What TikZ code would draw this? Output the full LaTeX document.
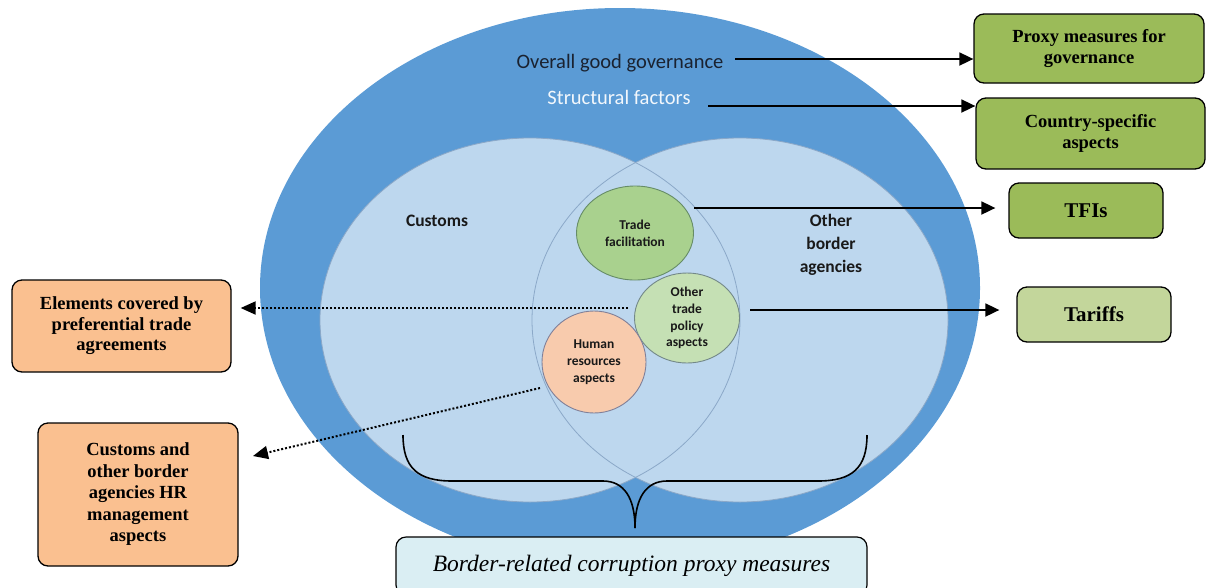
\documentclass[tikz,border=0pt]{standalone}
\usepackage{fontspec}
\setmainfont{Liberation Serif}
\newfontfamily\calibri{Carlito}
\usetikzlibrary{arrows.meta,shapes.geometric}

\definecolor{outerblue}{HTML}{5B9BD5}
\definecolor{innerblue}{HTML}{BDD7EE}
\definecolor{lensline}{HTML}{8BA8C8}
\definecolor{tfgreen}{HTML}{A9D18E}
\definecolor{otpgreen}{HTML}{C5E0B4}
\definecolor{hrorange}{HTML}{F8CBAD}
\definecolor{boxgreen}{HTML}{9BBB59}
\definecolor{tarifgreen}{HTML}{C3D69B}
\definecolor{boxorange}{HTML}{FAC090}
\definecolor{boxcyan}{HTML}{DAEEF3}
\definecolor{darktext}{HTML}{1A2230}

\tikzset{
  outcome/.style={draw=black, line width=1.3pt, rounded corners=10pt,
    align=center, inner sep=0pt, font=\bfseries\fontsize{18.5}{20.5}\selectfont},
  bigoutcome/.style={outcome, font=\bfseries\fontsize{21}{24}\selectfont},
  bubble/.style={ellipse, line width=0.9pt, align=center, inner sep=0pt,
    text=black!90, font=\calibri\bfseries\fontsize{13.5}{16.7}\selectfont},
  arr/.style={line width=1.8pt, -{Triangle[length=14pt,width=13pt]}},
  dotarr/.style={line width=2pt, dash pattern=on 2pt off 2pt,
    -{Triangle[length=15pt,width=13pt]}},
  areatext/.style={font=\calibri\bfseries\fontsize{17.5}{23}\selectfont,
    align=center, text=black!90}
}

\begin{document}
\begin{tikzpicture}[x=1pt, y=-1pt]
\useasboundingbox (0,0) rectangle (1206,587);

% governance ring and the two agency areas
\fill[outerblue] (620,288) ellipse [x radius=360pt, y radius=280pt];
\fill[innerblue] (530,320) ellipse [x radius=210pt, y radius=182pt];
\fill[innerblue] (740,320) ellipse [x radius=208pt, y radius=182pt];
\draw[lensline, line width=0.8pt] (530,320) ellipse [x radius=210pt, y radius=182pt];
\draw[lensline, line width=0.8pt] (740,320) ellipse [x radius=208pt, y radius=182pt];

% labels on the rings
\node[font=\calibri\fontsize{20.5}{24}\selectfont, text=darktext] (ogg) at (620,63) {Overall good governance};
\node[font=\calibri\fontsize{20.5}{24}\selectfont, text=white!92!outerblue] (sf) at (619,97) {Structural factors};
\node[areatext] (cust) at (437,221) {Customs};
\node[areatext] (oba) at (831,245) {Other\\border\\agencies};

% aspects inside the overlap
\node[bubble, draw=green!25!black!60, fill=tfgreen, minimum width=117pt, minimum height=94pt] (tf) at (635,233) {Trade\\facilitation};
\node[bubble, draw=teal!30!black!55, fill=otpgreen, minimum width=105pt, minimum height=90pt] (otp) at (687,318) {Other\\trade\\policy\\aspects};
\node[bubble, draw=blue!20!black!50, fill=hrorange, minimum width=104pt, minimum height=102pt] (hr) at (594,362) {Human\\resources\\aspects};

% measure boxes
\node[outcome, fill=boxgreen, minimum width=230pt, minimum height=69pt] (proxy) at (1089,48.5) {Proxy measures for\\governance};
\node[outcome, fill=boxgreen, minimum width=229pt, minimum height=71pt] (csa) at (1090.5,133.5) {Country-specific\\aspects};
\node[bigoutcome, fill=boxgreen, minimum width=154pt, minimum height=55pt] (tfi) at (1086,210.5) {TFIs};
\node[bigoutcome, fill=tarifgreen, minimum width=154pt, minimum height=55pt] (tar) at (1094,314.5) {Tariffs};
\node[outcome, fill=boxorange, minimum width=219pt, minimum height=92pt] (pta) at (121.5,326) {Elements covered by\\preferential trade\\agreements};
\node[outcome, fill=boxorange, minimum width=200pt, minimum height=143pt, font=\bfseries\fontsize{18.5}{21.5}\selectfont] (hrm) at (138,494.5) {Customs and\\other border\\agencies HR\\management\\aspects};
\node[outcome, line width=1.2pt, fill=boxcyan, minimum width=471pt, minimum height=58pt,
  font=\itshape\fontsize{23.5}{26}\selectfont] (brc) at (631.5,566) {Border-related corruption proxy measures};

% connector end points
\coordinate (s1) at (735,59);
\coordinate (s2) at (708,106);
\coordinate (s3) at (694,208);
\coordinate (s4) at (750,310);
\coordinate (s5) at (628,308);
\coordinate (s6) at (540,388);
\coordinate (e6) at (253,456);

\draw[arr] (s1) -- (s1 -| proxy.west);
\draw[arr] (s2) -- (s2 -| csa.west);
\draw[arr, shorten >=13pt] (s3) -- (s3 -| tfi.west);
\draw[arr, shorten >=17pt] (s4) -- (s4 -| tar.west);
\draw[dotarr, shorten >=9pt] (s5) -- (s5 -| pta.east);
\draw[dotarr] (s6) -- (e6);

% brace over both agency areas
\coordinate (bl) at (403,435);
\coordinate (br) at (867,435);
\coordinate (bt) at (635,528);
\draw[line width=1.6pt] (bl) .. controls (403,468) and (418,481) .. (452,481)
  -- (603,481) .. controls (624,481) and (635,498) .. (bt);
\draw[line width=1.6pt] (br) .. controls (867,468) and (852,481) .. (818,481)
  -- (667,481) .. controls (646,481) and (635,498) .. (bt);
\end{tikzpicture}
\end{document}
